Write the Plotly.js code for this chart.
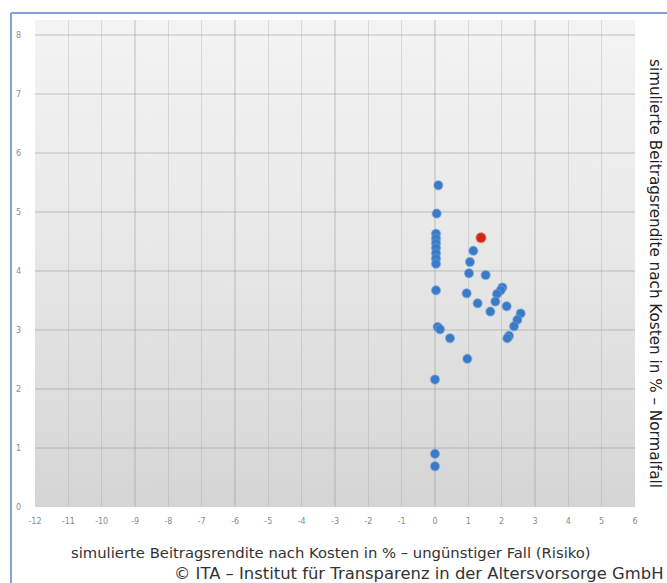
<!DOCTYPE html>
<html><head><meta charset="utf-8">
<script src="https://cdn.plot.ly/plotly-3.0.1.min.js"></script>
<style>html,body{margin:0;padding:0;background:#fff;}#chart{width:667px;height:583px;}</style>
</head><body><div id="chart"></div>
<script>
// Blue points: Risiko (x) vs Normalfall (y)
const fundsRisk   = [0.10, 0.05, 0.03, 0.03, 0.03, 0.03, 0.03, 0.03, 0.03, 0.03, 0.08, 0.15, 0.45, 0.97, 0.00, 0.00, 0.00,
                     1.15, 1.05, 1.02, 1.52, 0.95, 1.28, 2.02, 1.97, 1.86, 1.81, 1.66, 2.15, 2.57, 2.47, 2.37, 2.22, 2.17];
const fundsNormal = [5.45, 4.97, 4.63, 4.55, 4.47, 4.39, 4.30, 4.21, 4.12, 3.67, 3.05, 3.01, 2.86, 2.51, 2.16, 0.90, 0.69,
                     4.34, 4.15, 3.96, 3.93, 3.62, 3.45, 3.72, 3.67, 3.61, 3.48, 3.31, 3.40, 3.28, 3.17, 3.06, 2.90, 2.86];
// Highlighted product (red)
const productRisk   = [1.38];
const productNormal = [4.56];
const xTicks = [-12,-11,-10,-9,-8,-7,-6,-5,-4,-3,-2,-1,0,1,2,3,4,5,6];
const yTicks = [0,1,2,3,4,5,6,7,8];
const xTitle = "simulierte Beitragsrendite nach Kosten in % – ungünstiger Fall (Risiko)";
const yTitle = "simulierte Beitragsrendite nach Kosten in % – Normalfall";
const copyright = "© ITA – Institut für Transparenz in der Altersvorsorge GmbH";

// gradient background image
const cv = document.createElement('canvas'); cv.width = 8; cv.height = 256;
const ctx = cv.getContext('2d');
const g = ctx.createLinearGradient(0,0,0,256);
g.addColorStop(0,'#f4f4f4'); g.addColorStop(0.5,'#e7e7e7'); g.addColorStop(1,'#d5d5d5');
ctx.fillStyle = g; ctx.fillRect(0,0,8,256);
const bg = cv.toDataURL();

const L=35, R=32, T=20, B=76, W=667, H=583;
const pw = W-L-R, ph = H-T-B;
const px = v => (v-L)/pw, py = v => (H-B-v)/ph;

const traces = [
  {type:'scatter', mode:'markers', x:fundsRisk, y:fundsNormal, hoverinfo:'x+y',
   marker:{color:'#3b7bc6', size:9, line:{color:'rgba(110,160,225,0.45)', width:1.5}}},
  {type:'scatter', mode:'markers', x:productRisk, y:productNormal,
   marker:{color:'#d0261a', size:10, line:{color:'rgba(235,120,110,0.5)', width:1.5}}}
];
const axisFont = {family:'DejaVu Sans', size:8, color:'#8a8a8a'};
const titleFont = 'DejaVu Sans';
const layout = {
  width:W, height:H, margin:{l:L, r:R, t:T, b:B, pad:0},
  paper_bgcolor:'#ffffff', plot_bgcolor:'rgba(0,0,0,0)', showlegend:false,
  xaxis:{range:[-12,6], tickvals:xTicks, ticktext:xTicks.map(String), showgrid:true,
         gridcolor:'rgba(150,150,150,0.28)', gridwidth:1.5, zeroline:false, showline:false,
         ticks:'', tickfont:axisFont, ticklabelstandoff:8, fixedrange:true},
  yaxis:{range:[0,8.25], tickvals:yTicks, ticktext:yTicks.map(String), showgrid:true,
         gridcolor:'rgba(150,150,150,0.28)', gridwidth:1.5, zeroline:false, showline:false,
         ticks:'', tickfont:axisFont, ticklabelstandoff:13, fixedrange:true},
  images:[{source:bg, xref:'paper', yref:'paper', x:0, y:1, sizex:1, sizey:1,
           sizing:'stretch', xanchor:'left', yanchor:'top', layer:'below'}],
  shapes:[
    {type:'line', xref:'paper', yref:'paper', x0:px(11), x1:px(667), y0:py(13), y1:py(13),
     line:{color:'#5a86c5', width:1.5}},
    {type:'line', xref:'paper', yref:'paper', x0:px(11), x1:px(11), y0:py(13), y1:py(583),
     line:{color:'#5a86c5', width:1.5}}
  ],
  annotations:[
    {text:xTitle, xref:'paper', yref:'paper', x:px(331), y:py(552), xanchor:'center', yanchor:'middle',
     showarrow:false, font:{family:titleFont, size:14.8, color:'#333'}},
    {text:copyright, xref:'paper', yref:'paper', x:px(665), y:py(573), xanchor:'right', yanchor:'middle',
     showarrow:false, font:{family:titleFont, size:16.4, color:'#333'}},
    {text:yTitle, xref:'paper', yref:'paper', x:px(655), y:py(273), xanchor:'center', yanchor:'middle',
     textangle:90, showarrow:false, font:{family:titleFont, size:15.2, color:'#222'}}
  ]
};
Plotly.newPlot('chart', traces, layout, {displayModeBar:false, staticPlot:true});
</script></body></html>
